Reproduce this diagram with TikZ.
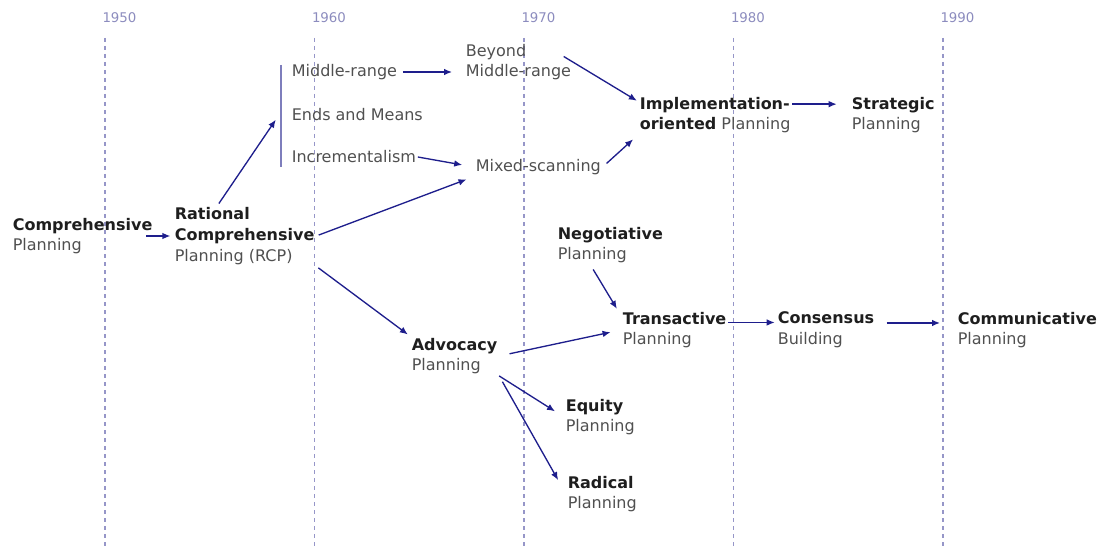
\documentclass[tikz,border=0pt]{standalone}
\usepackage{fontspec}
\setmainfont{DejaVu Sans}
\usetikzlibrary{arrows.meta}

\definecolor{navy}{RGB}{30,30,140}
\definecolor{gridblue}{RGB}{150,150,200}
\definecolor{yeartxt}{RGB}{140,140,190}
\definecolor{txtgrey}{RGB}{80,80,80}
\definecolor{txtdark}{RGB}{30,30,30}

\newcommand{\hd}[1]{{\bfseries\color{txtdark}#1}}

\tikzset{every picture/.style={line width=0.75pt}}
\tikzset{
  label/.style={anchor=west, align=left, inner sep=1pt, text=txtgrey,
    font=\fontsize{12}{15.5}\selectfont},
  yearlbl/.style={anchor=west, inner sep=0pt, text=yeartxt,
    font=\fontsize{10}{12}\selectfont},
  decade/.style={gridblue, line width=1.1pt, dash pattern=on 3pt off 3pt},
  link/.style={navy, line width=1pt, -{Latex[length=6pt,width=5pt]}}
}

\begin{document}
\begin{tikzpicture}[x=0.75pt,y=0.75pt,yscale=-1,xscale=1]
\useasboundingbox (0,0) rectangle (1099,549);

% decades
\foreach \yr [count=\i from 0] in {1950,1960,1970,1980,1990} {
  \draw [decade] (105+209.5*\i,38) -- (105+209.5*\i,549);
  \node [yearlbl] (y\yr) at (102+209.5*\i,18) {\yr};
}

% Text Node
\node [label] (comp) at (11,236) {\hd{Comprehensive}\\Planning};
% Text Node
\node [label] (rcp) at (173,236) {\hd{Rational}\\\hd{Comprehensive}\\Planning (RCP)};
% Bracket
\coordinate (bartop) at (281,65);
\coordinate (barbot) at (281,167);
\coordinate (barmid) at (281,112);
\draw [gridblue!80!navy, line width=1.5pt] (bartop) -- (barbot);
% Text Node
\node [label] (mid) at (290,72) {Middle-range};
\node [label] (ends) at (290,115) {Ends and Means};
\node [label] (incr) at (290,157) {Incrementalism};
% Text Node
\node [label] (beyond) at (464,62) {Beyond\\Middle-range};
\node [label] (mixed) at (474,167) {Mixed-scanning};
% Text Node
\node [label] (impl) at (638,115) {\hd{Implementation-}\\\hd{oriented} Planning};
\node [label] (strat) at (850,115) {\hd{Strategic}\\Planning};
% Text Node
\node [label] (neg) at (556,245) {\hd{Negotiative}\\Planning};
\node [label] (adv) at (410,356) {\hd{Advocacy}\\Planning};
\node [label] (trans) at (621,330) {\hd{Transactive}\\Planning};
\node [label] (cons) at (776,330) {\hd{Consensus}\\Building};
\node [label] (comm) at (956,330) {\hd{Communicative}\\Planning};
% Text Node
\node [label] (equity) at (564,417) {\hd{Equity}\\Planning};
\node [label] (radical) at (566,494) {\hd{Radical}\\Planning};

% arrows
\draw [link, shorten <=-6pt, shorten >=2pt] (comp.east) -- (rcp.west);
\draw [link, shorten <=2pt, shorten >=7pt] (rcp.132) -- (barmid);
\draw [link, shorten <=3pt, shorten >=9pt] (mid.east) -- (mid.east -| beyond.west);
\draw [link, shorten <=0pt, shorten >=9pt] (incr.east) -- (mixed.west);
\draw [link, shorten <=2pt, shorten >=6pt] (rcp.east) -- (mixed.south west);
\draw [link, shorten <=2pt, shorten >=2pt] (rcp.south east) -- (adv.north west);
\draw [link, shorten <=-8pt, shorten >=1pt] (beyond.east) -- (impl.170);
\draw [link, shorten <=4pt, shorten >=5pt] (mixed.east) -- (impl.south west);
\draw [link, shorten <=0pt, shorten >=10pt] (impl.8) -- (impl.8 -| strat.west);
\draw [link, shorten <=4pt, shorten >=6pt] (neg.-135) -- (trans.165);
\draw [link, shorten <=8pt, shorten >=8pt] (adv.east) -- (trans.west);
\draw [link, shorten <=0pt, shorten >=1pt] (trans.8) -- (trans.8 -| cons.west);
\draw [link, shorten <=8pt, shorten >=12pt] (cons.8) -- (cons.8 -| comm.west);
\draw [link, shorten <=0pt, shorten >=8pt] (adv.south east) -- (equity.west);
\draw [link, shorten <=5pt, shorten >=12pt] (adv.south east) -- (radical.west);

\end{tikzpicture}
\end{document}
